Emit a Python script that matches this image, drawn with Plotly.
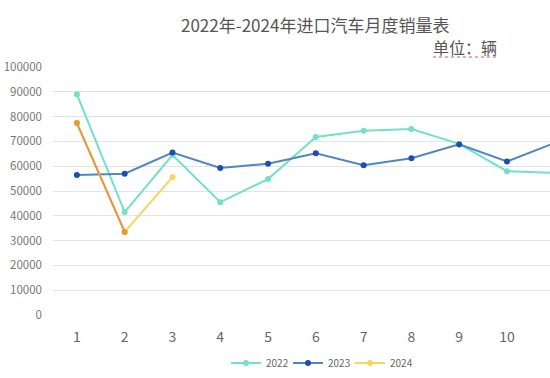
import plotly.graph_objects as go

months = [1, 2, 3, 4, 5, 6, 7, 8, 9, 10, 11]
month_labels = ["1", "2", "3", "4", "5", "6", "7", "8", "9", "10", "11"]
sales_2022 = [89000, 41500, 64500, 45500, 54800, 71800, 74300, 75000, 69000, 58000, 57300]
sales_2023 = [56500, 57000, 65500, 59300, 61000, 65200, 60400, 63200, 68800, 61900, 69400]
sales_2024 = [77400, 33500, 55600]
y_ticks = [0, 10000, 20000, 30000, 40000, 50000, 60000, 70000, 80000, 90000, 100000]

font_family = "Noto Sans CJK SC, Noto Sans, sans-serif"

W, H = 550, 378
L, T, R = 53, 67, 0
B = H - 315
plot_w = W - L - R
plot_h = H - T - B


def px_x(x):
    return (x - L) / plot_w


def px_y(y):
    return (H - B - y) / plot_h


fig = go.Figure()
fig.add_trace(go.Scatter(
    x=months, y=sales_2022, name="2022", mode="lines+markers",
    line=dict(color="#74e0ca", width=2), marker=dict(color="#74e0ca", size=6),
))
fig.add_trace(go.Scatter(
    x=months, y=sales_2023, name="2023", mode="lines+markers",
    line=dict(color="#4f86c4", width=2), marker=dict(color="#1d4eae", size=6),
))
fig.add_trace(go.Scatter(
    x=months[:len(sales_2024)], y=sales_2024, name="2024", mode="lines+markers",
    line=dict(color="#f6d660", width=2), marker=dict(color="#f6d660", size=6),
))
fig.add_trace(go.Scatter(
    x=months[:2], y=sales_2024[:2], name="2024", mode="lines+markers", showlegend=False,
    line=dict(color="#e8963c", width=2), marker=dict(color=["#e8963c", "#d9a226"], size=6),
))

fig.update_layout(
    width=W, height=H,
    margin=dict(l=L, r=R, t=T, b=B, autoexpand=False),
    paper_bgcolor="white", plot_bgcolor="white",
    font=dict(family=font_family, color="#666"),
    showlegend=True,
    legend=dict(orientation="h", x=px_x(319), xanchor="center", y=px_y(363), yanchor="middle",
                font=dict(size=10, color="#666"), itemwidth=30, tracegroupgap=0,
                entrywidth=17, entrywidthmode="pixels"),
    annotations=[
        dict(text="2022年-2024年进口汽车月度销量表", x=px_x(315), y=px_y(25),
             xref="paper", yref="paper", xanchor="center", yanchor="middle",
             showarrow=False, font=dict(size=17, color="#555", family=font_family)),
        dict(text="单位：辆", x=px_x(465), y=px_y(47),
             xref="paper", yref="paper", xanchor="center", yanchor="middle",
             showarrow=False, font=dict(size=16, color="#555", family=font_family)),
    ],
)

fig.add_shape(type="line", xref="paper", yref="paper",
              x0=px_x(433), x1=px_x(497), y0=px_y(57), y1=px_y(57),
              line=dict(color="#e05050", width=1, dash="dot"))

fig.update_xaxes(
    tickmode="array", tickvals=months, ticktext=month_labels,
    range=[0.5, 10.9], showgrid=False, zeroline=False, showline=False,
    ticks="", ticklabelstandoff=12, tickfont=dict(size=14, color="#666"),
    automargin=False,
)
fig.update_yaxes(
    range=[0, 100000], tickmode="array", tickvals=y_ticks,
    showgrid=True, gridcolor="#e4e4e4", gridwidth=1, zeroline=False,
    ticks="", ticklabelstandoff=10, tickfont=dict(size=11.5, color="#777"),
    tickformat="d", automargin=False,
)

fig.write_html("out.html", config={"displayModeBar": False},
               post_script="document.body.style.margin='0';")
